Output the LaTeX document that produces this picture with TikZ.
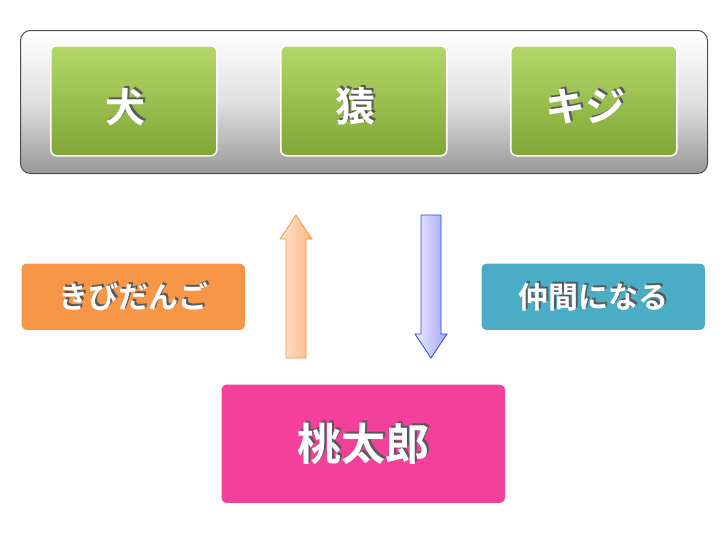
\documentclass[tikz,border=0pt]{standalone}
\usepackage{fontspec}
\newfontfamily\jp{Noto Sans CJK JP}[BoldFont={* Bold}]
\definecolor{gtop}{HTML}{B5D76A}
\definecolor{gbot}{HTML}{7FA636}
\definecolor{orng}{HTML}{F79646}
\definecolor{teal}{HTML}{4BACC6}
\definecolor{pink}{HTML}{F2409B}
\tikzset{
  card/.style={draw=white, line width=1.5pt, rounded corners=6pt, anchor=north west, inner sep=0pt},
  animal/.style={card, top color=gtop, bottom color=gbot, minimum width=166pt, minimum height=110pt},
  tag/.style={card, minimum width=225pt, minimum height=68pt},
  shade/.style={text=black!65},
  bigtext/.style={font=\jp\bfseries\fontsize{#1}{#1}\selectfont}
}
\begin{document}
\begin{tikzpicture}[x=1pt,y=-1pt]
  \useasboundingbox (0,0) rectangle (728,546);
  % gray frame
  \node[draw=black!70, line width=1pt, rounded corners=10pt, top color=white, bottom color=black!40,
    middle color=black!12, anchor=north west, minimum width=687pt, minimum height=143pt] (frame) at (20,30) {};
  % animals
  \node[animal] (inu) at (50,45) {};
  \node[animal] (saru) at (280,45) {};
  \node[animal] (kiji) at (510,45) {};
  \foreach \n/\t in {inu/犬, saru/猿, kiji/キジ}{
    \node[bigtext=40, shade] at ([xshift=-6pt,yshift=-4pt]\n.center) {\t};
    \node[bigtext=40, text=white] at ([xshift=-8pt,yshift=-6pt]\n.center) {\t};
  }
  % labels
  \node[tag, fill=orng] (dango) at (20,262) {};
  \node[tag, fill=teal] (nakama) at (480,262) {};
  \node[card, fill=pink, minimum width=285pt, minimum height=120pt] (momo) at (220,383) {};
  \foreach \n/\t/\s in {dango/きびだんご/30, nakama/仲間になる/30, momo/桃太郎/44}{
    \node[bigtext=\s, shade] at ([xshift=2pt,yshift=2pt]\n.center) {\t};
    \node[bigtext=\s, text=white] at (\n.center) {\t};
  }
  % arrows
  \coordinate (uptip) at (296,215);
  \coordinate (downtip) at (431,358);
  \draw[draw=orng, line width=0.8pt, left color=orng!25, right color=orng!70!white]
    (uptip) -- ++(16,24) -- ++(-6,0) -- ++(0,119) -- ++(-20,0) -- ++(0,-119) -- ++(-6,0) -- cycle;
  \draw[draw=blue!60!teal, line width=0.8pt, left color=blue!8, right color=blue!35]
    (downtip) -- ++(16,-24) -- ++(-6,0) -- ++(0,-119) -- ++(-20,0) -- ++(0,119) -- ++(-6,0) -- cycle;
\end{tikzpicture}
\end{document}
